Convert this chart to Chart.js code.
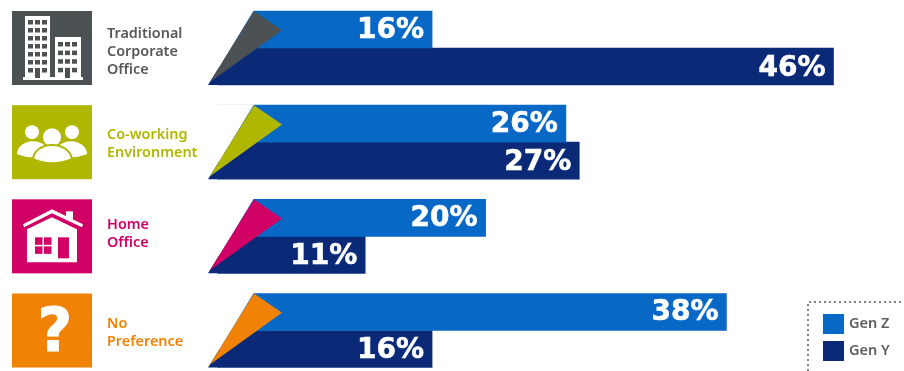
<!DOCTYPE html>
<html>
<head>
<meta charset="utf-8">
<style>
    html, body { margin: 0; padding: 0; background: #fff; overflow: hidden; }
    #wrap { position: relative; width: 904px; height: 371px; }
</style>
<script src="https://cdn.jsdelivr.net/npm/chart.js@4"></script>
</head>
<body>
<div id="wrap"><canvas id="workplaceChart"></canvas></div>
<script>
const categories = [
    ['Traditional', 'Corporate', 'Office'],
    ['Co-working', 'Environment'],
    ['Home', 'Office'],
    ['No', 'Preference']
];
const genZ = [16, 26, 20, 38];
const genY = [46, 27, 11, 16];
const seriesNames = ['Gen Z', 'Gen Y'];
const seriesColors = ['#0868c6', '#0a2a78'];
const rowColors = ['#4c5154', '#afb700', '#d10064', '#f08205'];
const labelColors = ['#55595c', '#afb700', '#d10064', '#f08205'];
// the caption blocks do not sit exactly on the row centres
const captionNudge = [4, 2, -2, 2];

function building(ctx, color) {
    ctx.fillStyle = '#fff';
    ctx.fillRect(13, 5, 25, 62);
    ctx.fillRect(43, 26, 26, 40);
    ctx.fillRect(11, 66, 60, 3);
    ctx.fillStyle = color;
    [16, 23, 30].forEach(x => {
        for (let r = 0; r < 7; r++) ctx.fillRect(x, 9 + r * 8, 5, 4.5);
    });
    [46, 53, 60].forEach(x => {
        for (let r = 0; r < 4; r++) ctx.fillRect(x, 31 + r * 8.6, 5, 4.5);
    });
    ctx.fillRect(23, 58, 5, 9);
    ctx.fillRect(53, 58, 5, 9);
}

function people(ctx, color) {
    ctx.fillStyle = '#fff';
    [[20, 27, 5], [60, 27, 43]].forEach(([hx, hy, bx]) => {
        ctx.beginPath();
        ctx.arc(hx, hy, 7, 0, Math.PI * 2);
        ctx.fill();
        ctx.beginPath();
        ctx.ellipse(bx + 16, 49, 16, 13, 0, Math.PI, 0);
        ctx.lineTo(bx + 32, 49);
        ctx.quadraticCurveTo(bx + 16, 55, bx, 49);
        ctx.fill();
    });
    ctx.strokeStyle = color;
    ctx.lineWidth = 2;
    ctx.beginPath();
    ctx.arc(40, 32, 10, 0, Math.PI * 2);
    ctx.fill();
    ctx.stroke();
    ctx.beginPath();
    ctx.moveTo(21, 54);
    ctx.bezierCurveTo(23, 35, 57, 35, 60, 54);
    ctx.quadraticCurveTo(40, 62, 21, 54);
    ctx.fill();
    ctx.stroke();
}

function house(ctx, color) {
    ctx.fillStyle = '#fff';
    ctx.fillRect(54, 12, 7, 8);
    ctx.beginPath();
    ctx.moveTo(40, 10);
    ctx.lineTo(71, 25);
    ctx.lineTo(70, 28);
    ctx.lineTo(40, 14);
    ctx.lineTo(12, 28);
    ctx.lineTo(11, 25);
    ctx.closePath();
    ctx.fill();
    ctx.beginPath();
    ctx.moveTo(40, 18);
    ctx.lineTo(65, 30);
    ctx.lineTo(65, 63);
    ctx.lineTo(15, 63);
    ctx.lineTo(15, 30);
    ctx.closePath();
    ctx.fill();
    ctx.fillStyle = color;
    [23, 32].forEach(x => [38, 47].forEach(y => ctx.fillRect(x, y, 7.5, 7.5)));
    ctx.fillRect(46, 38, 11, 21);
}

function question(ctx) {
    ctx.fillStyle = '#fff';
    ctx.strokeStyle = '#fff';
    ctx.lineWidth = 1;
    ctx.font = 'bold 60px "DejaVu Sans"';
    ctx.textAlign = 'center';
    ctx.textBaseline = 'alphabetic';
    ctx.fillText('?', 43, 57);
    ctx.strokeText('?', 43, 57);
}

const iconPainters = [building, people, house, question];

// tiles on the left, slanted bar starts, captions and the percent labels
const rowDecor = {
    id: 'rowDecor',
    afterDatasetsDraw(chart) {
        const ctx = chart.ctx;
        const x0 = chart.scales.x.getPixelForValue(0);
        const zMeta = chart.getDatasetMeta(0);
        const yMeta = chart.getDatasetMeta(1);

        categories.forEach((lines, i) => {
            const zBar = zMeta.data[i];
            const yBar = yMeta.data[i];
            const top = zBar.y - zBar.height / 2;
            const bottom = yBar.y + yBar.height / 2;
            const rowH = bottom - top;

            ctx.save();
            ctx.fillStyle = '#fff';
            ctx.beginPath();
            ctx.moveTo(x0 - 12, top - 1);
            ctx.lineTo(x0 + 36, top - 1);
            ctx.lineTo(x0 - 10, bottom + 1);
            ctx.lineTo(x0 - 12, bottom + 1);
            ctx.closePath();
            ctx.fill();

            ctx.fillStyle = seriesColors[1];
            ctx.beginPath();
            ctx.moveTo(x0 - 10, bottom);
            ctx.lineTo(x0 + 1, bottom);
            ctx.lineTo(x0 + 1, bottom - rowH * 0.24);
            ctx.closePath();
            ctx.fill();

            ctx.fillStyle = rowColors[i];
            ctx.beginPath();
            ctx.moveTo(x0 + 36, top);
            ctx.lineTo(x0 + 64, top + rowH * 0.26);
            ctx.lineTo(x0 - 8, bottom - 3);
            ctx.closePath();
            ctx.fill();

            ctx.fillStyle = labelColors[i];
            ctx.font = '600 14.4px "Noto Sans"';
            ctx.textAlign = 'left';
            ctx.textBaseline = 'middle';
            const first = zBar.y + zBar.height / 2 + captionNudge[i] - (lines.length - 1) * 9;
            lines.forEach((line, n) => ctx.fillText(line, 107, first + n * 18));

            // icon tile
            ctx.translate(12, top);
            ctx.fillStyle = rowColors[i];
            ctx.fillRect(0, 0, 80, rowH);
            iconPainters[i](ctx, rowColors[i]);
            ctx.restore();
        });

        ctx.save();
        ctx.fillStyle = '#fff';
        ctx.strokeStyle = '#fff';
        ctx.lineWidth = 0.6;
        ctx.font = 'bold 28px "DejaVu Sans"';
        ctx.textAlign = 'right';
        ctx.textBaseline = 'middle';
        [zMeta, yMeta].forEach((meta, d) => {
            meta.data.forEach((bar, i) => {
                const text = chart.data.datasets[d].data[i] + '%';
                ctx.fillText(text, bar.x - 8, bar.y + 1 + d);
                ctx.strokeText(text, bar.x - 8, bar.y + 1 + d);
            });
        });
        ctx.restore();
    },
    afterDraw(chart) {
        const ctx = chart.ctx;
        ctx.save();
        ctx.strokeStyle = '#55595c';
        ctx.lineWidth = 1.5;
        ctx.setLineDash([2, 3]);
        ctx.beginPath();
        ctx.moveTo(808, chart.height);
        ctx.lineTo(808, 302);
        ctx.lineTo(chart.width, 302);
        ctx.stroke();
        ctx.restore();

        ctx.save();
        ctx.font = '600 14.5px "Noto Sans"';
        ctx.textBaseline = 'middle';
        chart.data.datasets.forEach((ds, d) => {
            const y = 314 + d * 27;
            ctx.fillStyle = ds.backgroundColor;
            ctx.fillRect(823, y, 21, 20);
            ctx.fillStyle = '#5a5e62';
            ctx.fillText(ds.label, 849, y + 10);
        });
        ctx.restore();
    }
};

new Chart(document.getElementById('workplaceChart'), {
    type: 'bar',
    data: {
        labels: categories,
        datasets: [
            { label: seriesNames[0], data: genZ, backgroundColor: seriesColors[0], barThickness: 37, clip: false },
            { label: seriesNames[1], data: genY, backgroundColor: seriesColors[1], barThickness: 37, clip: false }
        ]
    },
    options: {
        indexAxis: 'y',
        responsive: true,
        maintainAspectRatio: false,
        animation: false,
        layout: { padding: { left: 107, right: 17, top: 48, bottom: 40.5 } },
        plugins: {
            legend: { display: false },
            tooltip: { enabled: false }
        },
        scales: {
            x: { display: false, min: 0, max: 50 },
            y: {
                offset: false,
                grid: { display: false },
                border: { display: false },
                afterFit(scale) { scale.width = 111; },
                ticks: { display: false }
            }
        }
    },
    plugins: [rowDecor]
});
</script>
</body>
</html>
